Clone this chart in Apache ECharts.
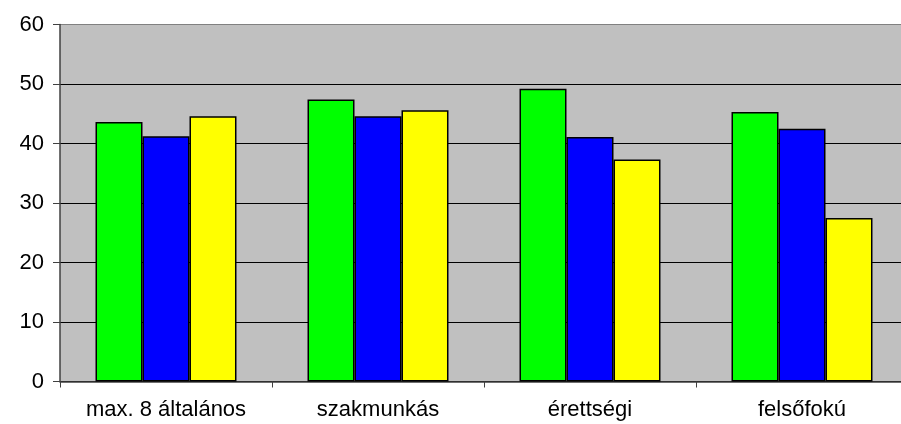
<!DOCTYPE html>
<html>
<head>
<meta charset="utf-8">
<script src="https://cdn.jsdelivr.net/npm/echarts@6/dist/echarts.min.js"></script>
<style>
  html, body { margin: 0; padding: 0; background: #fff; }
  #chart { width: 901px; height: 424px; }
</style>
</head>
<body>
<div id="chart"></div>
<script>
// kategóriák és értékek
var categories = ['max. 8 általános', 'szakmunkás', 'érettségi', 'felsőfokú'];
var greenValues = [43.6, 47.4, 49.2, 45.3];
var blueValues = [41.2, 44.6, 41.1, 42.5];
var yellowValues = [44.6, 45.6, 37.3, 27.5];
var yTicks = [0, 10, 20, 30, 40, 50, 60];

function barSeries(values, color) {
  return {
    type: 'bar',
    data: values,
    barGap: '0%',
    barCategoryGap: '33.5%',
    itemStyle: { color: color, borderColor: '#000', borderWidth: 1.5 }
  };
}

var chart = echarts.init(document.getElementById('chart'));
chart.setOption({
  animation: false,
  textStyle: { fontFamily: 'Liberation Sans, Arial, sans-serif' },
  // a rajzterület jobbra túlnyúlik a képen
  grid: {
    left: 60, top: 24.5, width: 848, bottom: 42.5,
    outerBoundsMode: 'none',
    show: true, backgroundColor: '#c0c0c0', borderWidth: 0
  },
  xAxis: {
    type: 'category',
    data: categories,
    axisLine: { lineStyle: { color: '#404040', width: 1.5 } },
    axisTick: { show: true, length: 6, lineStyle: { color: '#404040' } },
    axisLabel: { color: '#000', fontSize: 22, margin: 17 }
  },
  yAxis: {
    type: 'value',
    min: yTicks[0],
    max: yTicks[yTicks.length - 1],
    interval: 10,
    axisLine: { show: true, lineStyle: { color: '#404040', width: 1.5 } },
    axisTick: { show: true, length: 7, lineStyle: { color: '#404040' } },
    axisLabel: { color: '#000', fontSize: 22, margin: 16 },
    splitLine: {
      show: true,
      lineStyle: { color: ['#000', '#000', '#000', '#000', '#000', '#000', '#808080'], width: 1 }
    }
  },
  series: [
    barSeries(greenValues, '#00ff00'),
    barSeries(blueValues, '#0000ff'),
    barSeries(yellowValues, '#ffff00')
  ]
});
</script>
</body>
</html>
